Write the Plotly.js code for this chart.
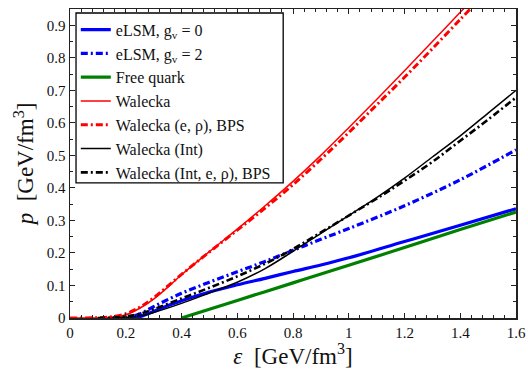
<!DOCTYPE html>
<html>
<head>
<meta charset="utf-8">
<script src="https://cdn.plot.ly/plotly-3.0.1.min.js"></script>
<style>html,body{margin:0;padding:0;background:#fff;}#plot{width:528px;height:370px;}</style>
</head>
<body>
<div id="plot"></div>
<script>
// Data (energy density eps in GeV/fm^3, pressure p in GeV/fm^3)
const names = ["eLSM, g<sub>v</sub> = 0", "eLSM, g<sub>v</sub> = 2", "Free quark", "Walecka",
               "Walecka (e, ρ), BPS", "Walecka (Int)", "Walecka (Int, e, ρ), BPS"];

const eLSM0_x = [0.22, 0.25, 0.3, 0.35, 0.4, 0.5, 0.6, 0.7, 0.8, 0.9, 1.0, 1.2, 1.4, 1.6];
const eLSM0_y = [0, 0.004, 0.02, 0.038, 0.053, 0.08, 0.102, 0.122, 0.143, 0.163, 0.185, 0.235, 0.285, 0.336];

const eLSM2_x = [0.18, 0.2, 0.25, 0.3, 0.4, 0.5, 0.6, 0.7, 0.8, 0.9, 1.0, 1.2, 1.4, 1.6];
const eLSM2_y = [0, 0.002, 0.012, 0.035, 0.076, 0.11, 0.142, 0.174, 0.208, 0.242, 0.275, 0.345, 0.425, 0.517];

const free_x = [0.4, 0.6, 0.8, 1.0, 1.2, 1.4, 1.6];
const free_y = [0, 0.054, 0.108, 0.162, 0.217, 0.272, 0.326];

const wal_x = [0, 0.1, 0.15, 0.2, 0.25, 0.3, 0.35, 0.4, 0.5, 0.6, 0.7, 0.8, 0.9, 1.0, 1.1, 1.2, 1.3, 1.4, 1.45];
const wal_y = [0, 0, 0.002, 0.01, 0.03, 0.058, 0.094, 0.133, 0.204, 0.273, 0.345, 0.42, 0.5, 0.585, 0.672, 0.76, 0.85, 0.94, 0.985];

const walBPS_x = [0, 0.1, 0.15, 0.2, 0.25, 0.3, 0.4, 0.5, 0.6, 0.7, 0.8, 0.9, 1.0, 1.1, 1.2, 1.3, 1.4, 1.47];
const walBPS_y = [0, 0.001, 0.004, 0.013, 0.033, 0.062, 0.134, 0.203, 0.27, 0.338, 0.41, 0.488, 0.57, 0.655, 0.74, 0.828, 0.918, 0.98];

const walInt_x = [0.15, 0.2, 0.25, 0.3, 0.4, 0.5, 0.6, 0.7, 0.8, 0.9, 1.0, 1.1, 1.2, 1.3, 1.4, 1.5, 1.6];
const walInt_y = [0, 0.002, 0.006, 0.017, 0.045, 0.077, 0.11, 0.152, 0.205, 0.26, 0.315, 0.37, 0.43, 0.495, 0.56, 0.63, 0.70];

const walIntBPS_x = [0.1, 0.15, 0.2, 0.25, 0.3, 0.4, 0.5, 0.6, 0.7, 0.8, 0.9, 1.0, 1.1, 1.2, 1.3, 1.4, 1.5, 1.6];
const walIntBPS_y = [0, 0.001, 0.005, 0.013, 0.027, 0.06, 0.093, 0.128, 0.167, 0.212, 0.263, 0.315, 0.367, 0.422, 0.48, 0.545, 0.61, 0.678];

const dd = "7px,3px,2px,3px";
const specs = [
  [eLSM0_x, eLSM0_y, {color: "#0000ff", width: 3.2}],
  [eLSM2_x, eLSM2_y, {color: "#0000ff", width: 3.2, dash: dd}],
  [free_x, free_y, {color: "#008000", width: 3.2}],
  [wal_x, wal_y, {color: "#ff0000", width: 1.5}],
  [walBPS_x, walBPS_y, {color: "#ff0000", width: 3, dash: dd}],
  [walInt_x, walInt_y, {color: "#000000", width: 1.5}],
  [walIntBPS_x, walIntBPS_y, {color: "#000000", width: 2.6, dash: dd}]
];
const traces = specs.map((s, i) => ({
  type: "scatter", mode: "lines", x: s[0], y: s[1], name: names[i],
  legendgroup: "g" + i,
  line: Object.assign({shape: "spline"}, s[2])
}));

const serif = "Liberation Serif, Times New Roman, serif";
const axisCommon = {
  showgrid: false, zeroline: false, showline: true, linecolor: "#222", linewidth: 1.5,
  mirror: "ticks", ticks: "inside", ticklen: 5, tickwidth: 1, tickcolor: "#222",
  tickfont: {family: serif, size: 15, color: "#111"}
};
const layout = {
  width: 528, height: 370,
  margin: {l: 70, r: 12, t: 9, b: 52},
  paper_bgcolor: "#fff", plot_bgcolor: "#fff",
  font: {family: serif, color: "#111"},
  xaxis: Object.assign({}, axisCommon, {
    range: [0, 1.6], dtick: 0.2, tick0: 0,
    minor: {dtick: 0.04, ticks: "inside", ticklen: 3, tickcolor: "#222", showgrid: false},
    title: {text: "<i>ε</i>  [GeV/fm<sup>3</sup>]", font: {family: serif, size: 23}, standoff: 3}
  }),
  yaxis: Object.assign({}, axisCommon, {
    range: [0, 0.95], dtick: 0.1, tick0: 0,
    minor: {dtick: 0.05, ticks: "inside", ticklen: 3, tickcolor: "#222", showgrid: false},
    title: {text: "<i>p</i>  [GeV/fm<sup>3</sup>]", font: {family: serif, size: 23}, standoff: 6}
  }),
  // legend frame (white box with black border, drawn above the curves, under the legend text)
  shapes: [{
    type: "rect", xref: "paper", yref: "paper", layer: "above",
    x0: 0.0135, x1: 0.478, y0: 0.437, y1: 0.987,
    line: {color: "#000", width: 1.3}, fillcolor: "#ffffff"
  }],
  showlegend: true,
  legend: {
    x: 0.013, y: 0.988, xanchor: "left", yanchor: "top",
    bgcolor: "rgba(0,0,0,0)", borderwidth: 0,
    font: {family: serif, size: 16, color: "#111"},
    itemwidth: 30, tracegroupgap: 1, traceorder: "normal"
  }
};
Plotly.newPlot("plot", traces, layout, {displayModeBar: false, staticPlot: true});
</script>
</body>
</html>
